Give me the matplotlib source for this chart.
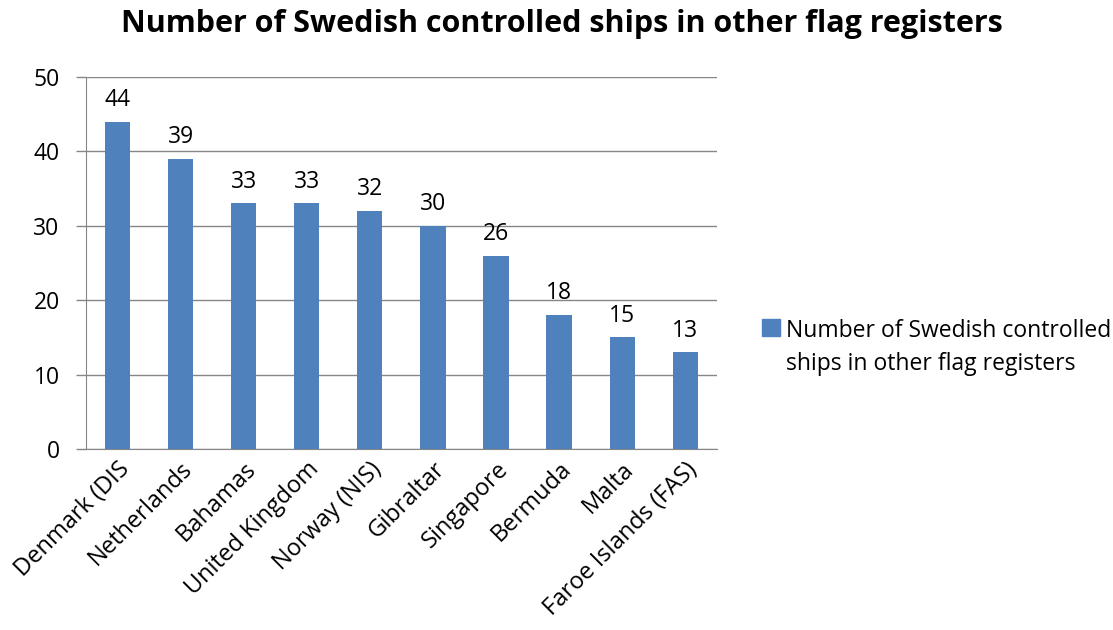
import matplotlib.pyplot as plt
from matplotlib.patches import Patch

countries = ['Denmark (DIS', 'Netherlands', 'Bahamas', 'United Kingdom', 'Norway (NIS)',
             'Gibraltar', 'Singapore', 'Bermuda', 'Malta', 'Faroe Islands (FAS)']
ships = [44, 39, 33, 33, 32, 30, 26, 18, 15, 13]
yticks = [0, 10, 20, 30, 40, 50]

bar_color = '#4f81bd'
grid_color = '#868686'
fs = 16.5

plt.rcParams['font.family'] = ['Open Sans', 'DejaVu Sans']

fig = plt.figure(figsize=(11.13, 6.3), dpi=100)
ax = fig.add_axes([0.0773, 0.2873, 0.5667, 0.5905])

x = range(len(countries))
bars = ax.bar(x, ships, width=0.4, color=bar_color, zorder=3)
for b, v in zip(bars, ships):
    ax.annotate(str(v), (b.get_x() + b.get_width() / 2, v), xytext=(0, 7),
                textcoords='offset points', ha='center', va='bottom', fontsize=fs)

ax.set_xlim(-0.5, len(countries) - 0.5)
ax.set_ylim(0, 50)
ax.set_yticks(yticks)
ax.yaxis.grid(True, color=grid_color, linewidth=1, zorder=0)
ax.set_xticks(list(x))
ax.set_xticklabels(countries, rotation=45, ha='right', rotation_mode='anchor', fontsize=17)
ax.tick_params(axis='y', labelsize=fs, color=grid_color, length=7, width=1, pad=12)
ax.tick_params(axis='x', length=0, pad=6)
for s in ['top', 'right']:
    ax.spines[s].set_visible(False)
for s in ['left', 'bottom']:
    ax.spines[s].set_color(grid_color)

fig.text(0.505, 0.962, 'Number of Swedish controlled ships in other flag registers',
         fontsize=22, fontweight='bold', ha='center', va='center')

handle = Patch(color=bar_color)
leg = fig.legend([handle], ['Number of Swedish controlled\nships in other flag registers'],
                 loc='center left', bbox_to_anchor=(0.685, 0.448), frameon=False,
                 fontsize=fs, handlelength=0.75, handleheight=0.75, handletextpad=0.3,
                 borderaxespad=0, borderpad=0)
for t in leg.get_texts():
    t.set_linespacing(1.5)
# put the square next to the first line, like Excel does
for col in leg._legend_handle_box.get_children():
    for row in col.get_children():
        row.align = 'top'

fig.savefig('out.png', dpi=100)
